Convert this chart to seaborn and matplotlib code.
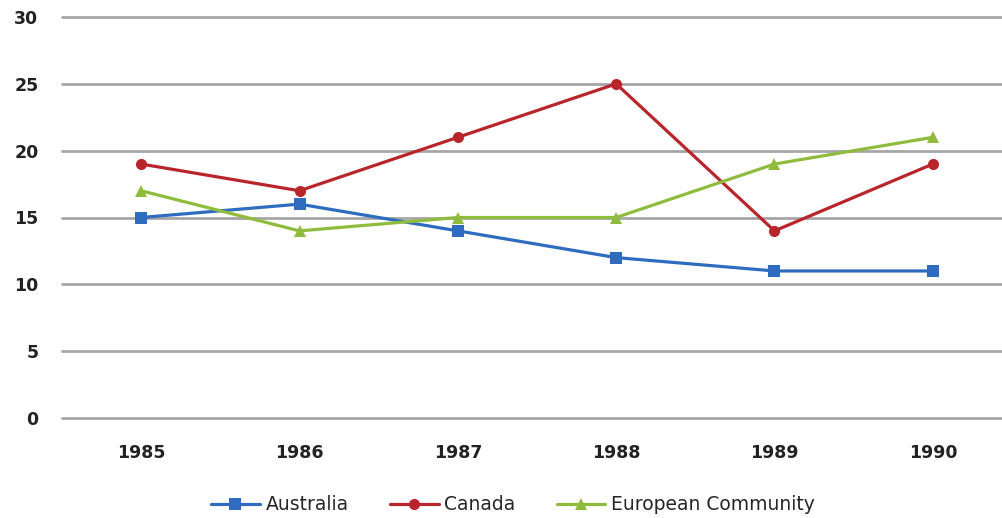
import matplotlib
matplotlib.use("Agg")
import matplotlib.pyplot as plt
import pandas as pd
import seaborn as sns

years = ["1985", "1986", "1987", "1988", "1989", "1990"]
australia = [15, 16, 14, 12, 11, 11]
canada = [19, 17, 21, 25, 14, 19]
european = [17, 14, 15, 15, 19, 21]
series_names = ["Australia", "Canada", "European Community"]

frames = []
for name, vals in zip(series_names, [australia, canada, european]):
    frames.append(pd.DataFrame({"year": years, "value": vals, "series": name}))
df = pd.concat(frames, ignore_index=True)

sns.set_style("white")
plt.rcParams['font.family'] = ['DejaVu Sans']

fig = plt.figure(figsize=(10.03, 5.18), dpi=100)
ax = fig.add_axes([62 / 1003, 100 / 518, 950 / 1003, 401 / 518])

palette = {"Australia": "#2f6cc0", "Canada": "#b8262b", "European Community": "#8fbc3c"}
markers = {"Australia": "s", "Canada": "o", "European Community": "^"}
sns.lineplot(data=df, x="year", y="value", hue="series", style="series",
             palette=palette, markers=markers, dashes=False, linewidth=2.3,
             markersize=8, markeredgewidth=0, ax=ax, legend=True, zorder=3)

ax.set_ylim(0, 30)
ax.set_xlim(-0.5, 5.5)
ax.set_yticks(range(0, 31, 5))
ax.yaxis.grid(True, color="#a6a6a6", linewidth=2)
ax.xaxis.grid(False)
for gl in ax.get_ygridlines():
    gl.set_clip_on(False)
for s in ax.spines.values():
    s.set_visible(False)
ax.set_xlabel("")
ax.set_ylabel("")
ax.tick_params(axis="y", length=0, pad=17, labelsize=12.5, labelcolor="#222222")
ax.tick_params(axis="x", length=0, pad=19, labelsize=12.5, labelcolor="#222222")
for lbl in ax.get_yticklabels() + ax.get_xticklabels():
    lbl.set_fontweight("bold")

handles, labels = ax.get_legend_handles_labels()
ax.get_legend().remove()
fig.legend(handles, labels, loc="center", bbox_to_anchor=(513 / 1003, 1 - 505 / 518),
           ncol=3, frameon=False, fontsize=13.5, handlelength=2.6,
           columnspacing=2.2, handletextpad=0.3)

fig.savefig("out.png", dpi=100)
